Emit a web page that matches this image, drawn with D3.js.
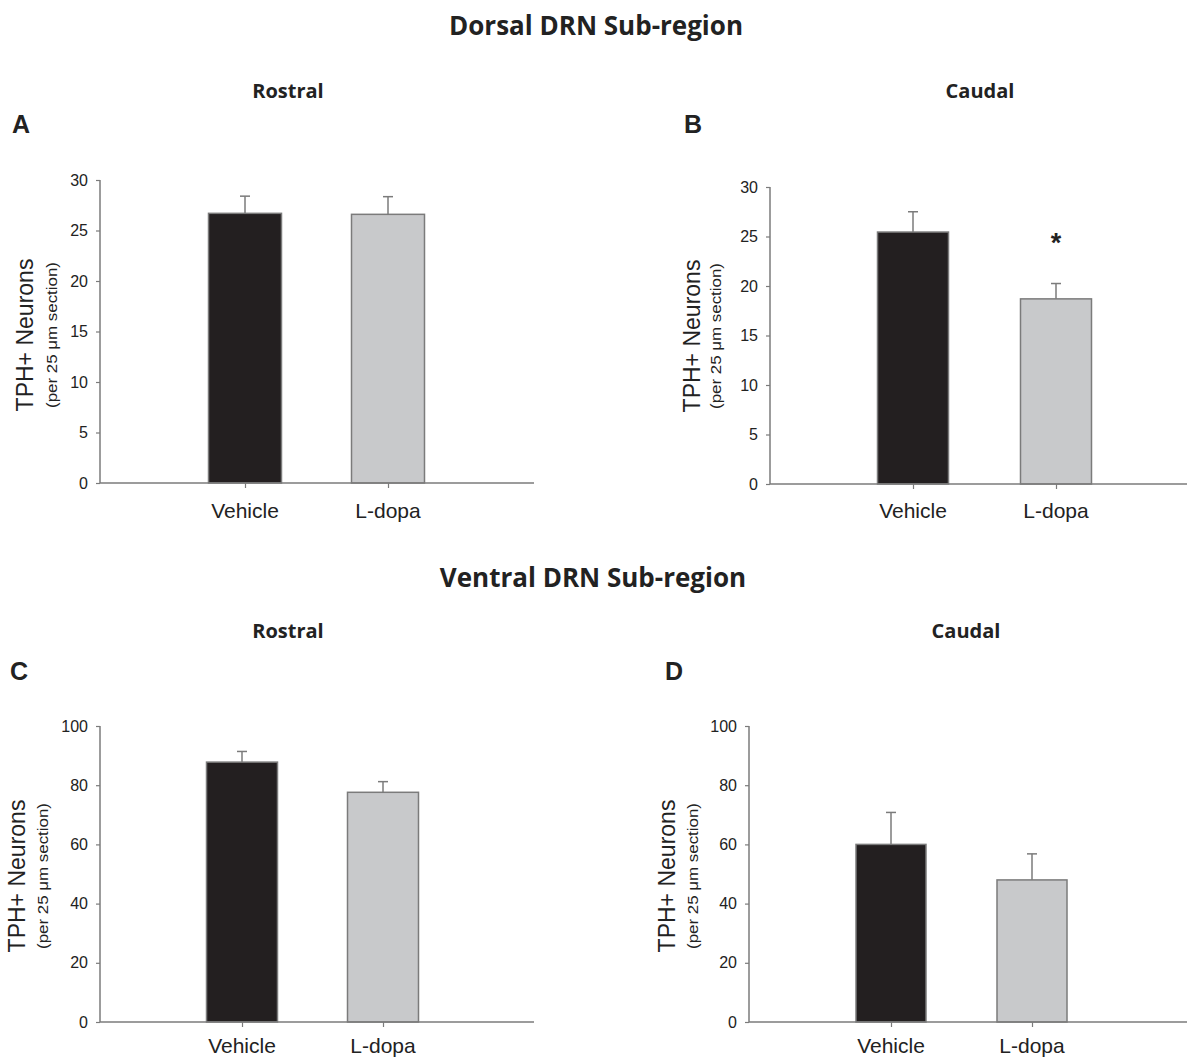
<!DOCTYPE html>
<html>
<head>
<meta charset="utf-8">
<script src="https://cdn.jsdelivr.net/npm/d3@7"></script>
<style>
  body { margin: 0; background: #fff; }
  svg { display: block; }
  .tick text { font-family: "Liberation Sans", Arial, sans-serif; fill: #222; }
</style>
</head>
<body>
<svg id="fig" width="1187" height="1057"></svg>
<script>
// data
var groups = ["Vehicle", "L-dopa"];
var dorsalRostral = [26.7, 26.6];
var dorsalRostralErr = [1.7, 1.75];
var dorsalCaudal = [25.45, 18.7];
var dorsalCaudalErr = [2.05, 1.55];
var ventralRostral = [87.8, 77.6];
var ventralRostralErr = [3.6, 3.6];
var ventralCaudal = [60.0, 48.0];
var ventralCaudalErr = [10.8, 8.8];
var dorsalTicks = [0, 5, 10, 15, 20, 25, 30];
var ventralTicks = [0, 20, 40, 60, 80, 100];
var sigMarks = [[], ["L-dopa"], [], []];

var barColors = ["#231f20", "#c8c9cb"];
var lineColor = "#7b7b7b";

var svg = d3.select("#fig");

// panel layouts
var panels = [
  { letter: "A", values: dorsalRostral, errs: dorsalRostralErr, ticks: dorsalTicks, max: 30,
    x0: 100, x1: 534, top: 180, bottom: 483, centers: [245, 388], bw: 73,
    lab1: 33, lab2: 57, labY: 335, catY: 518, lx: 12, ly: 133 },
  { letter: "B", values: dorsalCaudal, errs: dorsalCaudalErr, ticks: dorsalTicks, max: 30,
    x0: 770, x1: 1187, top: 187, bottom: 484, centers: [913, 1056], bw: 71,
    lab1: 700, lab2: 721, labY: 336, catY: 518, lx: 684, ly: 133 },
  { letter: "C", values: ventralRostral, errs: ventralRostralErr, ticks: ventralTicks, max: 100,
    x0: 100, x1: 534, top: 726, bottom: 1022, centers: [242, 383], bw: 71,
    lab1: 25, lab2: 48, labY: 876, catY: 1053, lx: 10, ly: 680 },
  { letter: "D", values: ventralCaudal, errs: ventralCaudalErr, ticks: ventralTicks, max: 100,
    x0: 749, x1: 1187, top: 726, bottom: 1022, centers: [891, 1032], bw: 70,
    lab1: 675, lab2: 698, labY: 876, catY: 1053, lx: 665, ly: 680 }
];

// headings
function heading(txt, x, y, size) {
  svg.append("text")
    .attr("x", x).attr("y", y)
    .attr("text-anchor", "middle")
    .attr("font-family", "'Open Sans', sans-serif")
    .attr("font-weight", 700)
    .attr("font-size", size)
    .attr("fill", "#222")
    .text(txt);
}
heading("Dorsal DRN Sub-region", 596, 35, 26);
heading("Ventral DRN Sub-region", 593, 587, 26);
heading("Rostral", 288, 98, 20);
heading("Caudal", 980, 98, 20);
heading("Rostral", 288, 638, 20);
heading("Caudal", 966, 638, 20);

panels.forEach(function (p, i) {
  var y = d3.scaleLinear().domain([0, p.max]).range([p.bottom, p.top]);
  var x = d3.scalePoint().domain(groups).range(p.centers);
  var g = svg.append("g");

  // panel letter
  g.append("text")
    .attr("x", p.lx).attr("y", p.ly)
    .attr("font-family", "'Liberation Sans', Arial, sans-serif")
    .attr("font-weight", 700)
    .attr("font-size", 25)
    .attr("fill", "#222")
    .text(p.letter);

  // bars
  g.selectAll(".bar")
    .data(p.values)
    .enter().append("rect")
    .attr("x", function (d, j) { return x(groups[j]) - p.bw / 2; })
    .attr("y", function (d) { return y(d); })
    .attr("width", p.bw)
    .attr("height", function (d) { return p.bottom - y(d); })
    .attr("fill", function (d, j) { return barColors[j]; })
    .attr("stroke", lineColor)
    .attr("stroke-width", 1.5);

  // error bars (upper only)
  var eb = g.selectAll(".err")
    .data(p.values)
    .enter().append("g");
  eb.append("line")
    .attr("x1", function (d, j) { return x(groups[j]); })
    .attr("x2", function (d, j) { return x(groups[j]); })
    .attr("y1", function (d) { return y(d); })
    .attr("y2", function (d, j) { return y(d + p.errs[j]); })
    .attr("stroke", lineColor).attr("stroke-width", 1.5);
  eb.append("line")
    .attr("x1", function (d, j) { return x(groups[j]) - 5; })
    .attr("x2", function (d, j) { return x(groups[j]) + 5; })
    .attr("y1", function (d, j) { return y(d + p.errs[j]); })
    .attr("y2", function (d, j) { return y(d + p.errs[j]); })
    .attr("stroke", lineColor).attr("stroke-width", 1.5);

  // significance star
  sigMarks[i].forEach(function (c) {
    var j = groups.indexOf(c);
    g.append("text")
      .attr("x", x(c)).attr("y", y(p.values[j] + p.errs[j]) - 32)
      .attr("text-anchor", "middle")
      .attr("font-family", "'Liberation Sans', Arial, sans-serif")
      .attr("font-weight", 700)
      .attr("font-size", 27)
      .attr("fill", "#222")
      .text("*");
  });

  // y axis
  var ya = g.append("g")
    .attr("transform", "translate(" + p.x0 + ",0)")
    .call(d3.axisLeft(y).tickValues(p.ticks).tickSize(4).tickPadding(8));
  ya.select(".domain").remove();
  ya.append("line")
    .attr("x1", 0).attr("x2", 0).attr("y1", p.top).attr("y2", p.bottom)
    .attr("stroke", lineColor).attr("stroke-width", 1.5);
  ya.selectAll(".tick line").attr("stroke", lineColor).attr("stroke-width", 1.2);
  ya.selectAll(".tick text").attr("font-size", 16);

  // x axis
  var xa = g.append("g")
    .attr("transform", "translate(0," + p.bottom + ")")
    .call(d3.axisBottom(x).tickSize(5).tickFormat(""));
  xa.select(".domain").remove();
  xa.append("line")
    .attr("x1", p.x0).attr("x2", p.x1).attr("y1", 0).attr("y2", 0)
    .attr("stroke", lineColor).attr("stroke-width", 1.5);
  xa.selectAll(".tick line").attr("stroke", lineColor).attr("stroke-width", 1.2);

  // category labels
  g.selectAll(".cat")
    .data(groups)
    .enter().append("text")
    .attr("x", function (d) { return x(d); })
    .attr("y", p.catY)
    .attr("text-anchor", "middle")
    .attr("font-family", "'Liberation Sans', Arial, sans-serif")
    .attr("font-size", 21)
    .attr("fill", "#222")
    .text(function (d) { return d; });

  // axis title
  g.append("text")
    .attr("transform", "translate(" + p.lab1 + "," + p.labY + ") rotate(-90)")
    .attr("text-anchor", "middle")
    .attr("font-family", "'Liberation Sans', Arial, sans-serif")
    .attr("font-size", 23)
    .attr("fill", "#222")
    .text("TPH+ Neurons");
  g.append("text")
    .attr("transform", "translate(" + p.lab2 + "," + p.labY + ") rotate(-90)")
    .attr("text-anchor", "middle")
    .attr("font-family", "'Liberation Sans', Arial, sans-serif")
    .attr("font-size", 14)
    .attr("textLength", 146)
    .attr("lengthAdjust", "spacingAndGlyphs")
    .attr("fill", "#222")
    .text("(per 25 \u03bcm section)");
});
</script>
</body>
</html>
